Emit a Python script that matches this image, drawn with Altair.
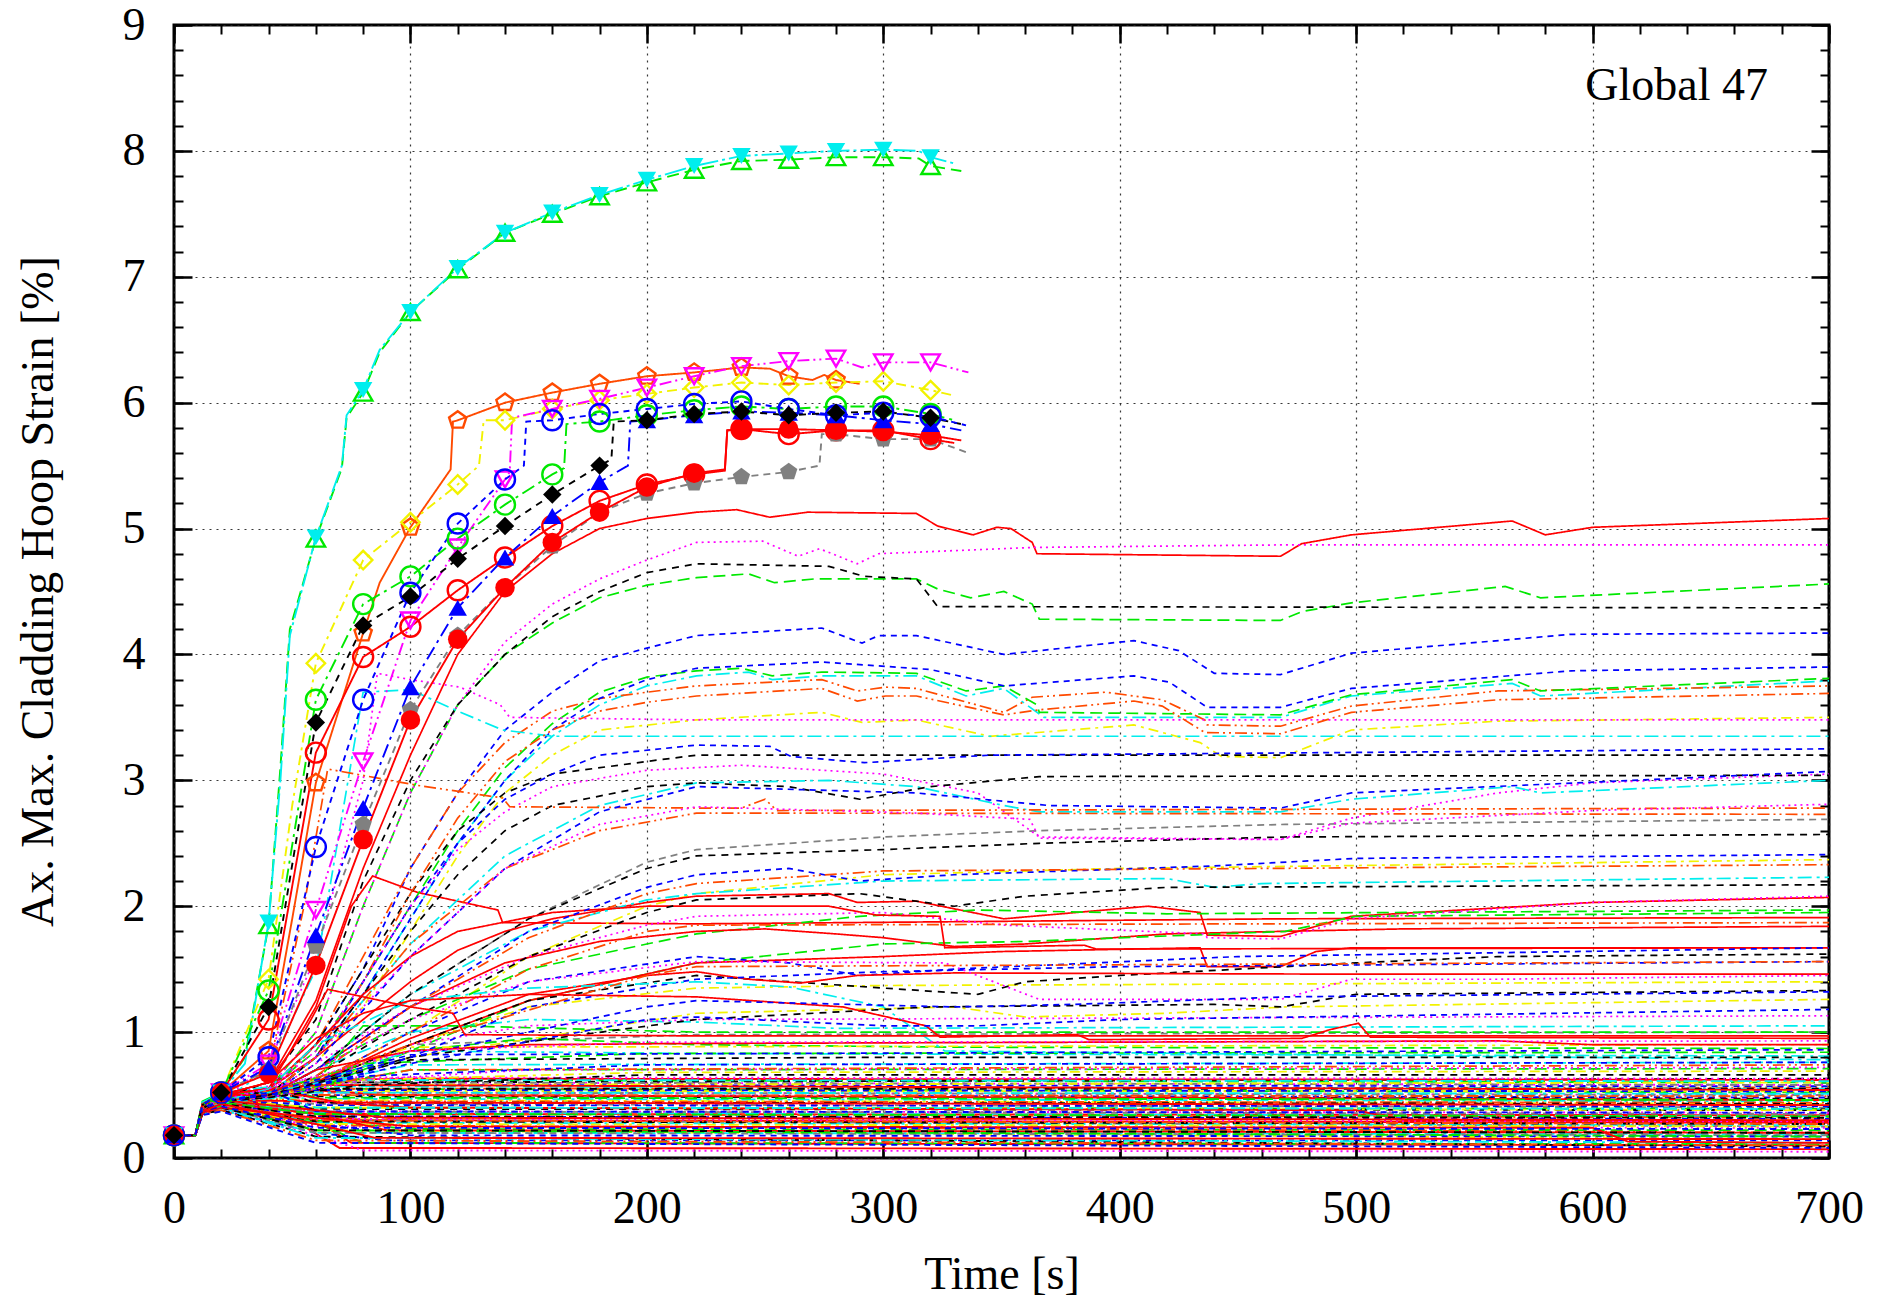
import altair as alt
import pandas as pd

FONT = "Liberation Serif"
ANNOT = "Global 47"

T_MARK = [0, 20, 40, 60, 80, 100, 120, 140, 160, 180, 200, 220, 240, 260, 280, 300, 320]
X_MAJOR = [0, 100, 200, 300, 400, 500, 600, 700]
X_MINOR = list(range(0, 701, 20))
Y_MAJOR = [0, 1, 2, 3, 4, 5, 6, 7, 8, 9]
Y_MINOR = [round(i * 0.2, 1) for i in range(46)]

COLORS = {"red": "#ff0000", "green": "#00e800", "blue": "#0000ff", "magenta": "#ff00ff",
          "cyan": "#00eeee", "yellow": "#f2f200", "black": "#000000", "orange": "#ff4a00",
          "gray": "#808080"}
STYLE_DASH = {"solid": [1, 0], "dash": [12, 6], "short": [6, 5], "dot": [2, 4],
              "dashdot": [14, 5, 3, 5], "dashdot2": [10, 5, 3, 5], "blackdash": [7, 6],
              "dashdotdot": [12, 4, 2, 4, 2, 4], "graydash": [7, 5], "longdashdot": [22, 4, 3, 4]}
STYLE_OF = {"red": "solid", "green": "dash", "blue": "short", "magenta": "dot", "cyan": "dashdot",
            "yellow": "dashdot2", "black": "blackdash", "orange": "dashdotdot", "gray": "graydash"}

# ---------------- marked series (symbols every 20 s) ----------------
CYAN_TRI = [[0,.18],[9,.18],[12,.42],[20,.52],[30,.75],[40,1.87],[45,3.0],[49,4.15],[60,4.93],[71,5.5],[73,5.9],[80,6.1],[87,6.42],[100,6.72],[120,7.07],[140,7.35],[160,7.51],[180,7.65],[200,7.77],[220,7.88],[240,7.96],[260,7.98],[280,8.0],[300,8.01],[315,8.0],[320,7.95],[330,7.9]]
GREEN_TRI = [[0,.18],[9,.18],[12,.42],[20,.52],[30,.8],[40,1.85],[45,3.1],[49,4.2],[60,4.92],[71,5.48],[73,5.88],[80,6.08],[87,6.4],[100,6.72],[120,7.06],[140,7.35],[160,7.5],[180,7.64],[200,7.75],[220,7.85],[240,7.92],[260,7.93],[280,7.95],[300,7.95],[315,7.94],[320,7.88],[333,7.84]]
ORANGE_PENT = [[0,.18],[9,.18],[12,.42],[20,.52],[40,.85],[50,1.9],[60,2.98],[80,4.17],[87,4.57],[100,5.01],[117,5.47],[118,5.85],[120,5.86],[140,6.0],[160,6.08],[180,6.15],[200,6.21],[220,6.24],[240,6.28],[252,6.27],[260,6.21],[270,6.18],[275,6.22],[280,6.18],[290,6.15]]
YELLOW_DIA = [[0,.18],[9,.18],[12,.42],[20,.52],[40,1.42],[50,2.8],[60,3.93],[80,4.75],[100,5.05],[120,5.35],[129,5.5],[131,5.86],[140,5.86],[160,5.95],[180,6.02],[200,6.07],[220,6.12],[240,6.16],[260,6.14],[280,6.16],[300,6.17],[320,6.1],[329,6.06]]
MAGENTA_TRI = [[0,.18],[9,.18],[12,.42],[20,.52],[40,.75],[60,1.97],[80,3.15],[100,4.27],[120,4.85],[140,5.39],[142,5.45],[143,5.88],[160,5.95],[180,6.03],[200,6.12],[220,6.21],[240,6.29],[260,6.33],[280,6.35],[291,6.28],[300,6.32],[320,6.32],[336,6.24]]
GREEN_CIR = [[0,.18],[9,.18],[12,.42],[20,.52],[40,1.33],[60,3.64],[80,4.4],[100,4.62],[120,4.92],[140,5.19],[160,5.43],[165,5.48],[166,5.83],[180,5.85],[200,5.9],[220,5.94],[240,5.97],[260,5.95],[280,5.97],[300,5.97],[320,5.91],[330,5.86]]
BLUE_CIR = [[0,.18],[9,.18],[12,.42],[20,.52],[40,.8],[60,2.47],[80,3.64],[100,4.49],[120,5.04],[140,5.39],[148,5.5],[149,5.85],[160,5.86],[180,5.91],[200,5.95],[220,5.99],[240,6.01],[260,5.95],[280,5.9],[300,5.92],[320,5.89],[335,5.82]]
BLACK_DIA = [[0,.18],[9,.18],[12,.42],[20,.52],[40,1.2],[60,3.46],[80,4.23],[100,4.46],[120,4.76],[140,5.02],[160,5.27],[180,5.5],[185,5.55],[186,5.85],[200,5.86],[220,5.91],[240,5.93],[260,5.9],[280,5.92],[300,5.93],[320,5.88],[333,5.83]]
BLUE_TRI = [[0,.18],[9,.18],[12,.42],[20,.52],[40,.72],[60,1.77],[80,2.78],[100,3.74],[120,4.37],[140,4.77],[160,5.1],[180,5.37],[192,5.5],[193,5.85],[200,5.86],[220,5.9],[240,5.93],[260,5.92],[280,5.9],[300,5.86],[320,5.83],[333,5.78]]
RED_OCIR = [[0,.18],[9,.18],[12,.42],[20,.52],[40,1.1],[60,3.22],[80,3.98],[100,4.22],[120,4.51],[140,4.77],[160,5.02],[180,5.22],[200,5.35],[220,5.43],[233,5.46],[234,5.78],[240,5.79],[260,5.75],[280,5.78],[300,5.78],[320,5.71],[330,5.68]]
RED_FCIR = [[0,.18],[9,.18],[12,.42],[20,.52],[40,.67],[60,1.53],[80,2.53],[100,3.48],[120,4.12],[140,4.53],[160,4.89],[180,5.13],[200,5.33],[220,5.44],[233,5.47],[234,5.78],[240,5.79],[260,5.79],[280,5.78],[300,5.77],[320,5.74],[333,5.7]]
GRAY_PENT = [[0,.18],[9,.18],[12,.42],[20,.52],[40,.7],[60,1.68],[80,2.65],[100,3.56],[120,4.15],[140,4.53],[160,4.86],[180,5.13],[200,5.28],[220,5.36],[240,5.41],[260,5.45],[273,5.5],[274,5.75],[280,5.75],[300,5.71],[320,5.71],[336,5.6]]

PENTAGON = "M0,-1L0.951,-0.309L0.588,0.809L-0.588,0.809L-0.951,-0.309Z"
MARKED = [
    ("green", "dash", GREEN_TRI, "triangle-up", False, 340),
    ("cyan", "longdashdot", CYAN_TRI, "triangle-down", True, 340),
    ("orange", "solid", ORANGE_PENT, PENTAGON, False, 330),
    ("yellow", "dashdot2", YELLOW_DIA, "diamond", False, 340),
    ("magenta", "dashdotdot", MAGENTA_TRI, "triangle-down", False, 340),
    ("gray", "graydash", GRAY_PENT, PENTAGON, True, 330),
    ("red", "solid", RED_FCIR, "circle", True, 380),
    ("red", "solid", RED_OCIR, "circle", False, 400),
    ("blue", "dashdot", BLUE_TRI, "triangle-up", True, 340),
    ("black", "blackdash", BLACK_DIA, "diamond", True, 340),
    ("green", "dashdot", GREEN_CIR, "circle", False, 400),
    ("blue", "short", BLUE_CIR, "circle", False, 400),
]

# ---------------- unmarked series, middle range ----------------
MID_RED = [
    [[0,.18],[9,.18],[12,.42],[20,.5],[40,.6],[60,1.25],[80,2.3],[100,3.2],[120,4.0],[140,4.5],[160,4.8],[180,5.0],[200,5.08],[221,5.13],[238,5.15],[252,5.09],[268,5.13],[314,5.12],[323,5.02],[338,4.95],[348,5.01],[354,5.0],[363,4.89],[365,4.8],[468,4.78],[477,4.88],[498,4.95],[566,5.06],[580,4.95],[600,5.01],[700,5.08]],
    [[0,.18],[9,.18],[12,.42],[20,.5],[40,.55],[60,1.2],[75,2.0],[84,2.24],[103,2.11],[137,1.97],[139,1.87],[221,1.86],[350,1.88],[468,1.9],[700,1.91]],
    [[0,.18],[9,.18],[12,.42],[20,.5],[40,.55],[60,.8],[80,1.1],[100,1.4],[120,1.65],[140,1.8],[160,1.9],[200,2.03],[221,2.08],[277,2.1],[289,2.03],[314,2.04],[351,1.9],[412,2.0],[434,1.95],[437,1.77],[468,1.76],[498,1.92],[600,2.03],[700,2.07]],
    [[0,.18],[9,.18],[12,.42],[20,.5],[40,.5],[60,.7],[80,.95],[100,1.2],[140,1.55],[180,1.72],[221,1.8],[250,1.82],[280,1.78],[300,1.75],[330,1.68],[360,1.7],[420,1.78],[468,1.8],[520,1.82],[700,1.84]],
    [[0,.18],[9,.18],[12,.42],[20,.5],[40,.55],[60,.9],[80,1.3],[100,1.6],[120,1.8],[160,1.95],[200,2.0],[277,2.0],[297,1.93],[324,1.92],[326,1.67],[385,1.69],[390,1.66],[700,1.67]],
    [[0,.18],[9,.18],[12,.42],[20,.5],[40,.5],[60,.6],[100,.9],[150,1.25],[221,1.55],[300,1.6],[350,1.64],[434,1.67],[437,1.52],[468,1.52],[483,1.64],[498,1.67],[700,1.67]],
    [[0,.18],[9,.18],[12,.42],[20,.5],[40,.5],[60,.6],[100,.95],[150,1.3],[200,1.45],[221,1.48],[243,1.42],[265,1.39],[289,1.45],[330,1.47],[500,1.46],[700,1.46]],
    [[0,.18],[9,.18],[12,.42],[20,.5],[40,.6],[60,.95],[80,1.15],[100,1.25],[150,1.3],[221,1.28],[283,1.2],[318,1.05],[324,.96],[382,.98],[387,.94],[477,.95],[489,1.02],[501,1.07],[506,.96],[700,.95]],
    [[0,.18],[9,.18],[12,.42],[20,.5],[40,.5],[60,.7],[100,.85],[150,.9],[221,.91],[560,.93],[600,.9],[700,.9]],
    [[0,.18],[9,.18],[12,.42],[20,.5],[40,.6],[55,1.0],[65,1.34],[100,1.2],[118,1.15],[123,.98],[221,.97],[700,.97]],
]
MID_MAGENTA = [
    [[0,.18],[9,.18],[12,.4],[20,.48],[40,.55],[60,1.0],[80,2.0],[100,2.9],[120,3.6],[140,4.1],[160,4.4],[180,4.6],[200,4.75],[221,4.89],[249,4.9],[264,4.78],[273,4.84],[289,4.72],[298,4.8],[363,4.85],[468,4.87],[700,4.87]],
    [[0,.18],[9,.18],[12,.4],[20,.45],[40,.75],[60,1.6],[80,3.0],[86,3.85],[100,3.8],[121,3.74],[138,3.6],[142,3.5],[221,3.48],[700,3.48]],
    [[0,.18],[9,.18],[12,.42],[20,.48],[40,.55],[60,.85],[80,1.4],[100,2.0],[120,2.45],[140,2.75],[160,2.95],[200,3.08],[240,3.12],[300,3.05],[340,2.9],[366,2.55],[468,2.53],[498,2.7],[560,2.9],[600,2.98],[700,3.05]],
    [[0,.18],[9,.18],[12,.4],[20,.46],[40,.5],[60,.75],[100,1.2],[150,1.6],[200,1.85],[221,1.92],[300,1.95],[351,1.85],[436,1.78],[437,1.75],[468,1.74],[498,1.9],[600,2.03],[700,2.08]],
    [[0,.18],[9,.18],[12,.4],[20,.46],[40,.55],[60,.8],[100,1.6],[140,2.3],[180,2.65],[221,2.79],[314,2.74],[362,2.69],[366,2.54],[468,2.53],[498,2.66],[600,2.76],[700,2.81]],
    [[0,.18],[9,.18],[12,.4],[20,.46],[40,.5],[60,.6],[100,.9],[150,1.05],[221,1.1],[700,1.13]],
    [[0,.18],[9,.18],[12,.4],[20,.46],[40,.5],[60,.7],[100,1.1],[150,1.4],[221,1.56],[326,1.55],[366,1.26],[468,1.26],[498,1.42],[560,1.42],[700,1.45]],
    [[0,.18],[9,.18],[12,.4],[20,.46],[40,.48],[80,.62],[150,.7],[700,.72]],
    [[0,.18],[9,.18],[12,.4],[20,.46],[40,.55],[100,.85],[200,.92],[700,.93]],
]
MID_BLACK = [
    [[0,.18],[9,.18],[12,.4],[20,.48],[40,.6],[60,1.1],[80,2.2],[100,3.0],[120,3.6],[140,4.0],[160,4.3],[180,4.5],[200,4.65],[221,4.72],[277,4.7],[292,4.62],[314,4.6],[323,4.38],[700,4.37]],
    [[0,.18],[9,.18],[12,.4],[20,.45],[40,.55],[60,.9],[80,1.5],[100,2.1],[120,2.6],[140,2.9],[160,3.05],[200,3.15],[221,3.2],[700,3.2]],
    [[0,.18],[9,.18],[12,.4],[20,.45],[40,.5],[60,.8],[80,1.3],[100,1.8],[120,2.25],[140,2.6],[160,2.8],[200,2.95],[221,2.98],[260,2.95],[290,2.85],[320,2.95],[366,3.03],[700,3.04]],
    [[0,.18],[9,.18],[12,.4],[20,.45],[40,.5],[60,.7],[100,1.3],[150,1.9],[200,2.3],[221,2.4],[300,2.45],[366,2.5],[470,2.55],[700,2.57]],
    [[0,.18],[9,.18],[12,.4],[20,.45],[40,.5],[60,.65],[100,1.1],[150,1.6],[200,1.95],[221,2.05],[290,2.1],[330,2.0],[360,2.08],[420,2.15],[700,2.17]],
    [[0,.18],[9,.18],[12,.4],[20,.45],[40,.5],[60,.6],[100,.9],[150,1.25],[221,1.45],[300,1.35],[340,1.3],[360,1.4],[400,1.45],[500,1.55],[560,1.6],[700,1.62]],
    [[0,.18],[9,.18],[12,.4],[20,.45],[40,.5],[100,.8],[221,1.1],[320,1.2],[440,1.22],[468,1.2],[500,1.3],[700,1.33]],
    [[0,.18],[9,.18],[12,.4],[20,.45],[40,.48],[80,.58],[200,.66],[700,.66]],
    [[0,.18],[9,.18],[12,.4],[20,.45],[40,.5],[100,.78],[300,.8],[700,.8]],
]
MID_BLUE = [
    [[0,.18],[9,.18],[12,.4],[20,.45],[40,.55],[60,.9],[80,1.5],[100,2.3],[120,2.9],[140,3.4],[160,3.7],[180,3.95],[200,4.05],[221,4.15],[274,4.21],[291,4.09],[298,4.15],[314,4.15],[351,4.0],[406,4.11],[425,4.03],[440,3.85],[468,3.84],[498,4.01],[591,4.16],[700,4.17]],
    [[0,.18],[9,.18],[12,.4],[20,.45],[40,.5],[60,.8],[80,1.3],[100,1.9],[120,2.5],[140,3.0],[160,3.4],[180,3.65],[200,3.8],[221,3.89],[274,3.94],[320,3.88],[351,3.75],[406,3.83],[421,3.78],[437,3.58],[468,3.58],[498,3.73],[591,3.87],[700,3.9]],
    [[0,.18],[9,.18],[12,.4],[20,.45],[40,.5],[60,.8],[80,1.4],[100,2.0],[120,2.5],[140,2.85],[160,3.05],[180,3.2],[221,3.28],[252,3.27],[261,3.19],[292,3.14],[345,3.2],[700,3.25]],
    [[0,.18],[9,.18],[12,.4],[20,.45],[40,.5],[60,.75],[100,1.6],[140,2.3],[180,2.75],[221,2.95],[314,2.9],[370,2.8],[468,2.78],[498,2.9],[700,3.07]],
    [[0,.18],[9,.18],[12,.4],[20,.45],[40,.5],[60,.7],[100,1.2],[150,1.8],[200,2.15],[221,2.25],[260,2.3],[290,2.2],[330,2.25],[440,2.32],[500,2.38],[700,2.41]],
    [[0,.18],[9,.18],[12,.4],[20,.45],[40,.5],[60,.6],[100,1.0],[150,1.4],[221,1.6],[260,1.55],[290,1.45],[330,1.5],[450,1.6],[700,1.67]],
    [[0,.18],[9,.18],[12,.4],[20,.45],[40,.5],[60,.55],[100,.8],[150,1.2],[221,1.42],[300,1.48],[400,1.52],[700,1.56]],
    [[0,.18],[9,.18],[12,.4],[20,.45],[40,.5],[100,.8],[200,1.2],[221,1.25],[330,1.2],[380,1.22],[470,1.28],[700,1.32]],
    [[0,.18],[9,.18],[12,.4],[20,.45],[40,.5],[100,.75],[200,1.1],[221,1.12],[300,1.05],[340,1.05],[400,1.1],[700,1.18]],
    [[0,.18],[9,.18],[12,.4],[20,.45],[40,.5],[80,.65],[200,.74],[700,.76]],
    [[0,.18],[9,.18],[12,.4],[20,.45],[40,.52],[100,.82],[700,.86]],
]
MID_GREEN = [
    [[0,.18],[9,.18],[12,.4],[20,.48],[40,.55],[60,1.0],[80,2.0],[100,2.9],[120,3.6],[140,4.0],[160,4.25],[180,4.45],[200,4.55],[221,4.61],[243,4.64],[254,4.57],[271,4.6],[314,4.6],[323,4.52],[337,4.45],[351,4.5],[363,4.4],[366,4.28],[468,4.27],[477,4.34],[498,4.41],[563,4.54],[578,4.45],[700,4.56]],
    [[0,.18],[9,.18],[12,.42],[20,.48],[40,.55],[60,.85],[80,1.4],[100,2.0],[120,2.6],[140,3.1],[160,3.45],[180,3.7],[200,3.82],[221,3.87],[240,3.89],[253,3.83],[274,3.86],[314,3.85],[335,3.71],[351,3.75],[365,3.6],[366,3.54],[468,3.52],[498,3.68],[566,3.8],[578,3.71],[700,3.81]],
    [[0,.18],[9,.18],[12,.4],[20,.46],[40,.5],[60,.7],[100,1.1],[150,1.5],[200,1.7],[221,1.78],[290,1.92],[340,1.97],[420,1.94],[700,1.97]],
    [[0,.18],[9,.18],[12,.4],[20,.46],[40,.5],[60,.6],[100,.85],[150,1.25],[221,1.55],[300,1.7],[360,1.72],[470,1.8],[500,1.92],[700,1.95]],
    [[0,.18],[9,.18],[12,.4],[20,.46],[40,.5],[60,.55],[100,.85],[150,.95],[221,.9],[330,.88],[700,.87]],
    [[0,.18],[9,.18],[12,.4],[20,.46],[40,.5],[60,.6],[80,1.05],[120,1.05],[221,1.0],[700,1.0]],
    [[0,.18],[9,.18],[12,.4],[20,.46],[40,.52],[80,.75],[200,.83],[700,.84]],
    [[0,.18],[9,.18],[12,.4],[20,.46],[40,.5],[100,.7],[700,.71]],
]
MID_CYAN = [
    [[0,.18],[9,.18],[12,.4],[20,.45],[40,.5],[60,.8],[80,1.3],[100,1.9],[120,2.5],[140,3.0],[160,3.35],[180,3.6],[200,3.75],[221,3.83],[243,3.86],[253,3.8],[274,3.83],[314,3.83],[335,3.67],[351,3.73],[368,3.5],[468,3.5],[498,3.67],[566,3.77],[578,3.67],[700,3.79]],
    [[0,.18],[9,.18],[12,.4],[20,.45],[40,.7],[60,1.5],[70,2.6],[80,3.7],[100,3.72],[120,3.55],[139,3.4],[160,3.35],[700,3.35]],
    [[0,.18],[9,.18],[12,.4],[20,.45],[40,.5],[60,.8],[100,1.7],[140,2.4],[180,2.8],[221,2.98],[277,3.0],[314,2.95],[351,2.8],[366,2.75],[468,2.75],[498,2.85],[566,2.95],[578,2.9],[700,3.0]],
    [[0,.18],[9,.18],[12,.4],[20,.45],[40,.5],[60,.7],[100,1.3],[150,1.8],[200,2.05],[221,2.1],[300,2.2],[420,2.22],[440,2.15],[460,2.18],[700,2.23]],
    [[0,.18],[9,.18],[12,.4],[20,.45],[40,.5],[60,.7],[100,1.0],[150,1.1],[221,1.08],[280,1.03],[700,1.05]],
    [[0,.18],[9,.18],[12,.4],[20,.45],[40,.5],[60,.6],[100,.85],[221,.83],[700,.81]],
    [[0,.18],[9,.18],[12,.4],[20,.45],[40,.55],[60,.9],[100,1.25],[150,1.35],[221,1.4],[260,1.36],[300,1.2],[326,.85],[700,.78]],
    [[0,.18],[9,.18],[12,.4],[20,.45],[40,.52],[100,.74],[700,.76]],
]
MID_YELLOW = [
    [[0,.18],[9,.18],[12,.4],[20,.45],[40,.5],[60,.75],[80,1.2],[100,1.8],[120,2.4],[140,2.9],[160,3.2],[180,3.4],[221,3.48],[274,3.54],[291,3.46],[314,3.48],[345,3.35],[406,3.44],[434,3.3],[443,3.19],[468,3.18],[498,3.4],[560,3.47],[700,3.5]],
    [[0,.18],[9,.18],[12,.4],[20,.45],[40,.5],[60,.6],[100,1.0],[150,1.6],[200,2.0],[221,2.1],[300,2.25],[400,2.3],[700,2.37]],
    [[0,.18],[9,.18],[12,.4],[20,.45],[40,.5],[60,.55],[100,.9],[150,1.2],[221,1.35],[300,1.37],[700,1.4]],
    [[0,.18],[9,.18],[12,.4],[20,.45],[40,.5],[100,.8],[221,1.15],[330,1.2],[360,1.12],[420,1.15],[470,1.2],[700,1.26]],
    [[0,.18],[9,.18],[12,.4],[20,.45],[40,.5],[80,.62],[200,.68],[700,.69]],
    [[0,.18],[9,.18],[12,.4],[20,.45],[40,.5],[100,.88],[700,.9]],
]
MID_ORANGE = [
    [[0,.18],[9,.18],[12,.4],[20,.45],[40,.5],[60,.9],[80,1.6],[100,2.3],[120,2.9],[140,3.3],[160,3.55],[180,3.65],[200,3.7],[221,3.75],[274,3.8],[289,3.71],[301,3.74],[314,3.73],[351,3.54],[363,3.66],[394,3.7],[418,3.64],[436,3.48],[437,3.44],[468,3.43],[498,3.59],[560,3.71],[700,3.75]],
    [[0,.18],[9,.18],[12,.4],[20,.45],[40,.5],[60,.8],[80,1.4],[100,2.1],[120,2.7],[140,3.15],[160,3.4],[180,3.55],[200,3.62],[221,3.67],[274,3.73],[289,3.63],[301,3.67],[314,3.67],[351,3.52],[366,3.56],[406,3.63],[418,3.59],[436,3.38],[468,3.37],[498,3.54],[560,3.64],[700,3.69]],
    [[0,.18],[9,.18],[12,.42],[20,.5],[40,.7],[55,2.0],[65,3.09],[103,2.96],[139,2.86],[142,2.79],[221,2.78],[240,2.78],[250,2.85],[255,2.76],[700,2.78]],
    [[0,.18],[9,.18],[12,.4],[20,.45],[40,.5],[60,.8],[100,1.7],[140,2.3],[180,2.6],[221,2.74],[700,2.73]],
    [[0,.18],[9,.18],[12,.4],[20,.45],[40,.5],[60,.65],[100,1.2],[150,1.75],[200,2.1],[221,2.18],[300,2.28],[700,2.33]],
    [[0,.18],[9,.18],[12,.4],[20,.45],[40,.5],[60,.6],[100,1.0],[150,1.5],[200,1.8],[221,1.85],[700,1.87]],
    [[0,.18],[9,.18],[12,.4],[20,.45],[40,.5],[100,.9],[200,1.45],[221,1.52],[700,1.56]],
    [[0,.18],[9,.18],[12,.4],[20,.45],[40,.5],[100,.7],[700,.74]],
]
MID_GRAY = [
    [[0,.18],[9,.18],[12,.4],[20,.45],[40,.5],[60,.7],[100,1.3],[150,1.9],[200,2.35],[221,2.45],[300,2.55],[366,2.6],[470,2.65],[700,2.69]],
    [[0,.18],[9,.18],[12,.4],[20,.45],[40,.5],[60,.55],[100,.9],[221,.98],[700,1.0]],
]

# ---------------- unmarked series, dense low band ----------------
LOW_RED = [
    [[0,.18],[9,.18],[12,.4],[20,.48],[45,.42],[70,.35],[700,.34]],
    [[0,.18],[9,.18],[12,.38],[20,.45],[50,.38],[80,.3],[700,.28]],
    [[0,.18],[9,.18],[12,.36],[20,.42],[60,.3],[75,.12],[700,.1]],
    [[0,.18],[9,.18],[12,.35],[20,.4],[55,.25],[70,.08],[700,.07]],
    [[0,.18],[9,.18],[12,.42],[20,.5],[50,.55],[90,.5],[700,.46]],
    [[0,.18],[9,.18],[12,.4],[20,.46],[60,.45],[100,.4],[500,.38],[520,.3],[700,.29]],
    [[0,.18],[9,.18],[12,.37],[20,.44],[60,.35],[90,.22],[700,.2]],
    [[0,.18],[9,.18],[12,.4],[20,.47],[60,.62],[100,.63],[700,.62]],
    [[0,.18],[9,.18],[12,.36],[20,.4],[60,.32],[100,.25],[600,.24],[615,.13],[700,.12]],
    [[0,.18],[9,.18],[12,.41],[20,.49],[40,.55],[70,.44],[700,.42]],
    [[0,.18],[9,.18],[12,.39],[20,.46],[50,.4],[90,.32],[400,.31],[700,.3]],
    [[0,.18],[9,.18],[12,.37],[20,.43],[60,.27],[85,.16],[700,.15]],
    [[0,.18],[9,.18],[12,.43],[20,.5],[60,.58],[700,.54]],
]
LOW_GREEN = [
    [[0,.18],[9,.18],[12,.45],[20,.52],[60,.55],[700,.52]],
    [[0,.18],[9,.18],[12,.4],[20,.45],[60,.4],[700,.39]],
    [[0,.18],[9,.18],[12,.38],[20,.42],[60,.3],[100,.23],[700,.22]],
    [[0,.18],[9,.18],[12,.36],[20,.4],[60,.28],[80,.12],[700,.11]],
    [[0,.18],[9,.18],[12,.42],[20,.48],[60,.62],[700,.6]],
    [[0,.18],[9,.18],[12,.43],[20,.5],[45,.56],[60,.48],[700,.46]],
    [[0,.18],[9,.18],[12,.39],[20,.44],[60,.35],[700,.33]],
    [[0,.18],[9,.18],[12,.37],[20,.41],[60,.22],[700,.17]],
]
LOW_BLUE = [
    [[0,.18],[9,.18],[12,.43],[20,.5],[60,.5],[700,.48]],
    [[0,.18],[9,.18],[12,.4],[20,.46],[60,.42],[700,.41]],
    [[0,.18],[9,.18],[12,.38],[20,.43],[60,.33],[700,.31]],
    [[0,.18],[9,.18],[12,.35],[20,.38],[60,.2],[90,.14],[700,.14]],
    [[0,.18],[9,.18],[12,.4],[20,.47],[60,.58],[700,.57]],
    [[0,.18],[9,.18],[12,.36],[20,.4],[60,.27],[100,.18],[700,.17]],
    [[0,.18],[9,.18],[12,.42],[20,.49],[60,.54],[700,.53]],
    [[0,.18],[9,.18],[12,.39],[20,.44],[45,.5],[60,.37],[700,.36]],
    [[0,.18],[9,.18],[12,.37],[20,.41],[60,.24],[700,.23]],
    [[0,.18],[9,.18],[12,.34],[20,.37],[60,.12],[700,.08]],
]
LOW_MAGENTA = [
    [[0,.18],[9,.18],[12,.42],[20,.5],[60,.52],[700,.5]],
    [[0,.18],[9,.18],[12,.38],[20,.44],[60,.37],[700,.36]],
    [[0,.18],[9,.18],[12,.36],[20,.4],[60,.25],[700,.24]],
    [[0,.18],[9,.18],[12,.35],[20,.38],[60,.18],[80,.06],[700,.05]],
    [[0,.18],[9,.18],[12,.42],[20,.49],[60,.6],[700,.58]],
    [[0,.18],[9,.18],[12,.41],[20,.47],[45,.53],[60,.44],[700,.42]],
    [[0,.18],[9,.18],[12,.37],[20,.42],[60,.31],[700,.29]],
    [[0,.18],[9,.18],[12,.43],[20,.5],[60,.64],[700,.63]],
]
LOW_CYAN = [
    [[0,.18],[9,.18],[12,.42],[20,.5],[60,.47],[700,.45]],
    [[0,.18],[9,.18],[12,.4],[20,.45],[60,.36],[700,.33]],
    [[0,.18],[9,.18],[12,.37],[20,.42],[60,.28],[700,.26]],
    [[0,.18],[9,.18],[12,.35],[20,.38],[60,.2],[700,.19]],
    [[0,.18],[9,.18],[12,.44],[20,.52],[60,.57],[700,.55]],
    [[0,.18],[9,.18],[12,.43],[20,.5],[60,.52],[700,.51]],
    [[0,.18],[9,.18],[12,.39],[20,.44],[45,.48],[60,.4],[700,.39]],
    [[0,.18],[9,.18],[12,.36],[20,.4],[60,.16],[700,.12]],
    [[0,.18],[9,.18],[12,.44],[20,.51],[60,.62],[700,.61]],
]
LOW_YELLOW = [
    [[0,.18],[9,.18],[12,.42],[20,.48],[60,.46],[700,.43]],
    [[0,.18],[9,.18],[12,.38],[20,.42],[60,.32],[700,.3]],
    [[0,.18],[9,.18],[12,.36],[20,.4],[60,.22],[700,.15]],
    [[0,.18],[9,.18],[12,.4],[20,.46],[60,.53],[700,.53]],
    [[0,.18],[9,.18],[12,.4],[20,.46],[60,.4],[700,.38]],
    [[0,.18],[9,.18],[12,.37],[20,.41],[60,.27],[700,.25]],
    [[0,.18],[9,.18],[12,.42],[20,.49],[60,.58],[700,.6]],
]
LOW_BLACK = [
    [[0,.18],[9,.18],[12,.42],[20,.5],[60,.49],[700,.47]],
    [[0,.18],[9,.18],[12,.4],[20,.45],[60,.39],[700,.38]],
    [[0,.18],[9,.18],[12,.37],[20,.42],[60,.29],[700,.27]],
    [[0,.18],[9,.18],[12,.35],[20,.38],[60,.17],[700,.09]],
    [[0,.18],[9,.18],[12,.43],[20,.5],[60,.6],[700,.63]],
    [[0,.18],[9,.18],[12,.41],[20,.47],[45,.52],[60,.44],[700,.43]],
    [[0,.18],[9,.18],[12,.38],[20,.43],[60,.33],[700,.32]],
    [[0,.18],[9,.18],[12,.36],[20,.4],[60,.22],[700,.2]],
    [[0,.18],[9,.18],[12,.42],[20,.49],[60,.55],[700,.55]],
]
LOW_ORANGE = [
    [[0,.18],[9,.18],[12,.42],[20,.49],[60,.45],[700,.44]],
    [[0,.18],[9,.18],[12,.38],[20,.43],[60,.35],[700,.32]],
    [[0,.18],[9,.18],[12,.36],[20,.4],[60,.26],[700,.2]],
    [[0,.18],[9,.18],[12,.42],[20,.5],[60,.55],[700,.56]],
    [[0,.18],[9,.18],[12,.4],[20,.47],[60,.5],[700,.49]],
    [[0,.18],[9,.18],[12,.37],[20,.42],[60,.3],[700,.27]],
    [[0,.18],[9,.18],[12,.35],[20,.38],[60,.14],[700,.1]],
]
LOW_GRAY = [
    [[0,.18],[9,.18],[12,.4],[20,.46],[60,.43],[700,.4]],
    [[0,.18],[9,.18],[12,.38],[20,.42],[60,.3],[700,.25]],
    [[0,.18],[9,.18],[12,.42],[20,.48],[60,.52],[700,.5]],
    [[0,.18],[9,.18],[12,.4],[20,.45],[60,.37],[700,.35]],
    [[0,.18],[9,.18],[12,.36],[20,.4],[60,.2],[700,.18]],
    [[0,.18],[9,.18],[12,.43],[20,.5],[60,.6],[700,.58]],
]

# ---------------- build tables ----------------
rows = []


def add_series(sid, color, style, pts, width):
    for i, (t, y) in enumerate(pts):
        rows.append({"sid": sid, "i": i, "t": t, "y": y, "c": COLORS[color],
                     "style": style, "w": width})


def interleave(groups, prefix, width):
    maxlen = max(len(g[1]) for g in groups)
    for k in range(maxlen):
        for color, lines in groups:
            if k < len(lines):
                add_series(f"{prefix}_{color}_{k}", color, STYLE_OF[color], lines[k], width)


interleave([("red", LOW_RED), ("green", LOW_GREEN), ("blue", LOW_BLUE), ("magenta", LOW_MAGENTA),
            ("cyan", LOW_CYAN), ("yellow", LOW_YELLOW), ("black", LOW_BLACK),
            ("orange", LOW_ORANGE), ("gray", LOW_GRAY)], "low", 1.9)
interleave([("red", MID_RED), ("green", MID_GREEN), ("blue", MID_BLUE), ("magenta", MID_MAGENTA),
            ("cyan", MID_CYAN), ("yellow", MID_YELLOW), ("black", MID_BLACK),
            ("orange", MID_ORANGE), ("gray", MID_GRAY)], "mid", 1.7)

mk_rows = []
for n, (color, style, pts, shape, filled, size) in enumerate(MARKED):
    add_series(f"mark_{n}", color, style, pts, 1.9)
    for t, y in pts:
        if t in T_MARK:
            mk_rows.append({"t": t, "y": y, "c": COLORS[color], "shape": shape,
                            "filled": filled, "sz": size, "n": n})

df = pd.DataFrame(rows)
mk = pd.DataFrame(mk_rows)

XS = alt.Scale(domain=[0, 700], nice=False, zero=False)
YS = alt.Scale(domain=[0, 9], nice=False, zero=False)
style_keys = list(STYLE_DASH.keys())

lines = alt.Chart(df).mark_line(clip=True).encode(
    x=alt.X("t:Q", scale=XS, axis=None),
    y=alt.Y("y:Q", scale=YS, axis=None),
    detail="sid:N",
    color=alt.Color("c:N", scale=None),
    strokeDash=alt.StrokeDash("style:N", scale=alt.Scale(domain=style_keys,
                              range=[STYLE_DASH[k] for k in style_keys]), legend=None),
    strokeWidth=alt.StrokeWidth("w:Q", scale=None),
    order=alt.Order("i:Q"),
)

open_pts = alt.Chart(mk[~mk["filled"]]).mark_point(filled=False, opacity=1, strokeWidth=2.4).encode(
    x=alt.X("t:Q", scale=XS, axis=None),
    y=alt.Y("y:Q", scale=YS, axis=None),
    color=alt.Color("c:N", scale=None),
    shape=alt.Shape("shape:N", scale=None),
    size=alt.Size("sz:Q", scale=None),
)
filled_pts = alt.Chart(mk[mk["filled"]]).mark_point(filled=True, opacity=1).encode(
    x=alt.X("t:Q", scale=XS, axis=None),
    y=alt.Y("y:Q", scale=YS, axis=None),
    color=alt.Color("c:N", scale=None),
    shape=alt.Shape("shape:N", scale=None),
    size=alt.Size("sz:Q", scale=None),
)

label = alt.Chart(pd.DataFrame({"label": [ANNOT]})).mark_text(
    font=FONT, fontSize=46, align="right", baseline="alphabetic", color="black"
).encode(text="label:N", x=alt.value(1594), y=alt.value(75))

GRID = dict(grid=True, gridColor="#222222", gridDash=[2, 5], gridWidth=1.2, gridOpacity=0.9)

ax_x_main = alt.Axis(orient="bottom", values=X_MAJOR, ticks=False, tickSize=0, domain=False,
                     labelFont=FONT, labelFontSize=46, labelColor="black", labelPadding=28,
                     labelFlush=False, labelOverlap=False, format="d",
                     title="Time [s]", titleFont=FONT, titleFontSize=46, titleFontWeight="normal",
                     titleColor="black", titleBaseline="alphabetic", titleY=130, **GRID)
ax_y_main = alt.Axis(orient="left", values=Y_MAJOR, ticks=False, tickSize=0, domain=False,
                     labelFont=FONT, labelFontSize=46, labelColor="black", labelPadding=29,
                     labelFlush=False, labelOverlap=False, format="d",
                     title="Ax. Max. Cladding Hoop Strain [%]", titleFont=FONT, titleFontSize=46,
                     titleFontWeight="normal", titleColor="black", titleX=-112, titleY=566, **GRID)


def tick_axis(orient, values, size, width):
    return alt.Axis(orient=orient, values=values, offset=-size, tickSize=size, tickWidth=width,
                    tickColor="black", ticks=True, labels=False, grid=False, domain=False, title="")


anchor = df.iloc[:1]


def axis_layer(ax, ay):
    return alt.Chart(anchor).mark_point(opacity=0).encode(
        x=alt.X("t:Q", scale=XS, axis=ax), y=alt.Y("y:Q", scale=YS, axis=ay))


axis_layers = [
    axis_layer(ax_x_main, ax_y_main),
    axis_layer(tick_axis("bottom", X_MAJOR, 18, 2.5), tick_axis("left", Y_MAJOR, 18, 2.5)),
    axis_layer(tick_axis("bottom", X_MINOR, 9, 2), tick_axis("left", Y_MINOR, 9, 2)),
    axis_layer(tick_axis("top", X_MAJOR, 18, 2.5), tick_axis("right", Y_MAJOR, 18, 2.5)),
    axis_layer(tick_axis("top", X_MINOR, 9, 2), tick_axis("right", Y_MINOR, 9, 2)),
]

chart = alt.layer(*axis_layers, lines, open_pts, filled_pts, label).resolve_axis(
    x="independent", y="independent"
).properties(
    width=1655, height=1133,
    autosize=alt.AutoSizeParams(type="none"),
    padding={"left": 174, "top": 25, "right": 69, "bottom": 149},
).configure_view(stroke="black", strokeWidth=3)

chart.save("out.html", embed_options={"renderer": "svg", "actions": False})
